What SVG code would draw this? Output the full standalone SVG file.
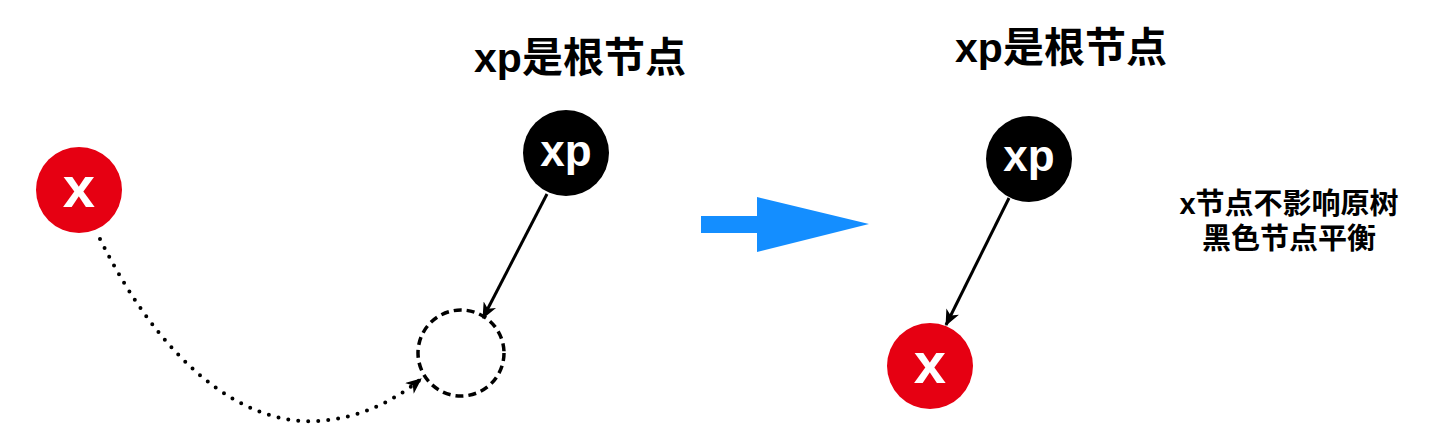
<svg xmlns="http://www.w3.org/2000/svg" width="1432" height="440" viewBox="0 0 1432 440">
<style>
.title{font-family:"Liberation Sans","Noto Sans CJK SC",sans-serif;font-weight:bold;font-size:41px;fill:#000;text-anchor:middle}
.note{font-family:"Liberation Sans","Noto Sans CJK SC",sans-serif;font-weight:bold;font-size:29px;fill:#000;text-anchor:middle}
.red{fill:#e60012}
.blk{fill:#000}
.lbl{font-family:"Liberation Sans",Arial,sans-serif;font-weight:bold;fill:#fff;text-anchor:middle}
.edge{stroke:#000;stroke-width:3;fill:none}
</style>
<defs>
<marker id="ah" viewBox="0 0 16 14" refX="15" refY="7" markerWidth="16" markerHeight="14" markerUnits="userSpaceOnUse" orient="auto">
<path d="M0,0 L16,7 L0,14 L4.5,7 Z" fill="#000"/>
</marker>
</defs>
<g id="title-left"><text class="title" x="580" y="72">xp是根节点</text></g>
<g id="title-right"><text class="title" x="1061" y="62">xp是根节点</text></g>
<g id="note"><text class="note" x="1289" y="214">x节点不影响原树</text><text class="note" x="1289" y="249">黑色节点平衡</text></g>
<g id="node-x-left"><circle class="red" cx="79" cy="190" r="43"/><text class="lbl" x="79" y="207" font-size="58">x</text></g>
<g id="node-xp-left"><circle class="blk" cx="566" cy="153" r="43"/><text class="lbl" x="566" y="166" font-size="44">xp</text></g>
<g id="node-empty"><circle cx="461" cy="353" r="43" fill="none" stroke="#000" stroke-width="3.5" stroke-dasharray="8 5"/></g>
<g id="node-xp-right"><circle class="blk" cx="1029" cy="159" r="43"/><text class="lbl" x="1029" y="171" font-size="44">xp</text></g>
<g id="node-x-right"><circle class="red" cx="930" cy="366" r="43"/><text class="lbl" x="930" y="383" font-size="58">x</text></g>
<g id="transition-arrow"><path d="M701,216 H757 V197 L869,224 L757,252 V233 H701 Z" fill="#148eff"/></g>
<g id="connectors">
<path class="edge" d="M547,194 L483,318" marker-end="url(#ah)"/>
<path class="edge" d="M1009,198 L946,325" marker-end="url(#ah)"/>
<path d="M100,239 C160,360 240,425 316,421 C360,419 395,400 421,379" fill="none" stroke="#000" stroke-width="4" stroke-linecap="round" stroke-dasharray="0 10" marker-end="url(#ah)"/>
</g>
</svg>
